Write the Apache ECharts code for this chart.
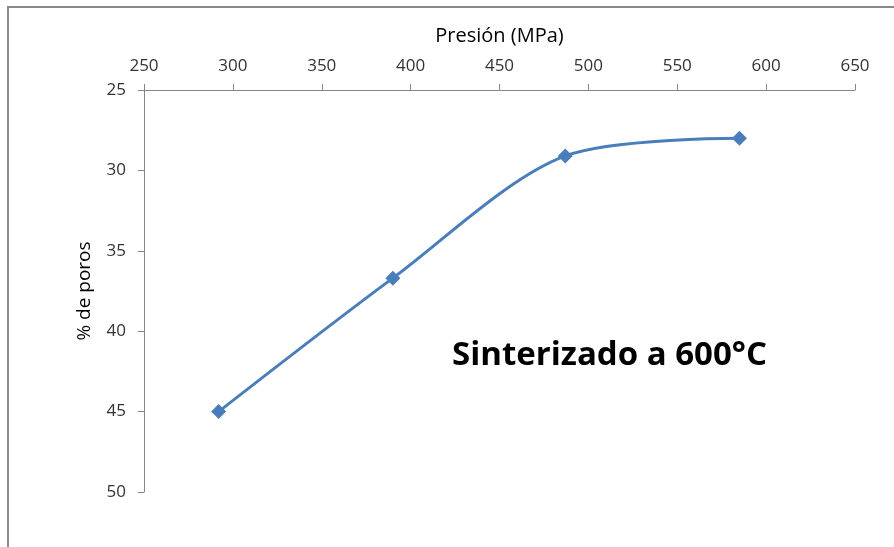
<!DOCTYPE html>
<html><head><meta charset="utf-8">
<script src="https://cdn.jsdelivr.net/npm/echarts@6/dist/echarts.min.js"></script>
<style>html,body{margin:0;padding:0;background:#fff}#c{width:894px;height:547px}</style>
</head><body><div id="c"></div>
<script>
const presion = [292, 390, 487, 585];
const poros = [45.0, 36.7, 29.1, 28.0];
const xTitle = 'Presión (MPa)';
const yTitle = '% de poros';
const note = 'Sinterizado a 600°C';

const FONT = '"Open Sans", sans-serif';
const chart = echarts.init(document.getElementById('c'));
chart.setOption({
  animation: false,
  backgroundColor: '#fff',
  grid: {left: 144, top: 90, right: 39, bottom: 55},
  xAxis: {
    type: 'value', position: 'top', min: 250, max: 650, interval: 50,
    name: xTitle, nameLocation: 'middle', nameGap: 44,
    nameTextStyle: {fontFamily: FONT, fontSize: 20, color: '#000'},
    axisLine: {lineStyle: {color: '#868686', width: 1}},
    axisTick: {show: true, length: 6, lineStyle: {color: '#868686'}},
    axisLabel: {fontFamily: FONT, fontSize: 17, color: '#333', margin: 15},
    splitLine: {show: false}
  },
  yAxis: {
    type: 'value', inverse: true, min: 25, max: 50, interval: 5,
    name: yTitle, nameLocation: 'middle', nameGap: 50, nameRotate: 90,
    nameTextStyle: {fontFamily: FONT, fontSize: 19, color: '#000'},
    axisLine: {show: true, lineStyle: {color: '#868686', width: 1}},
    axisTick: {show: true, length: 6, lineStyle: {color: '#868686'}},
    axisLabel: {fontFamily: FONT, fontSize: 17, color: '#333', margin: 18},
    splitLine: {show: false}
  },
  series: [{
    type: 'line', smooth: 0.3,
    data: presion.map((x, i) => [x, poros[i]]),
    symbol: 'diamond', symbolSize: 15,
    lineStyle: {color: '#4a7ebb', width: 3},
    itemStyle: {color: '#4a7ebb'}
  }],
  graphic: [
    {type: 'rect', shape: {x: 8, y: 7, width: 1000, height: 1000},
     style: {fill: 'none', stroke: '#8a8a8a', lineWidth: 2}, silent: true},
    {type: 'text', left: 452, top: 339,
     style: {text: note, fontFamily: FONT, fontWeight: 'bold', fontSize: 33, fill: '#000'}}
  ]
});
</script></body></html>
